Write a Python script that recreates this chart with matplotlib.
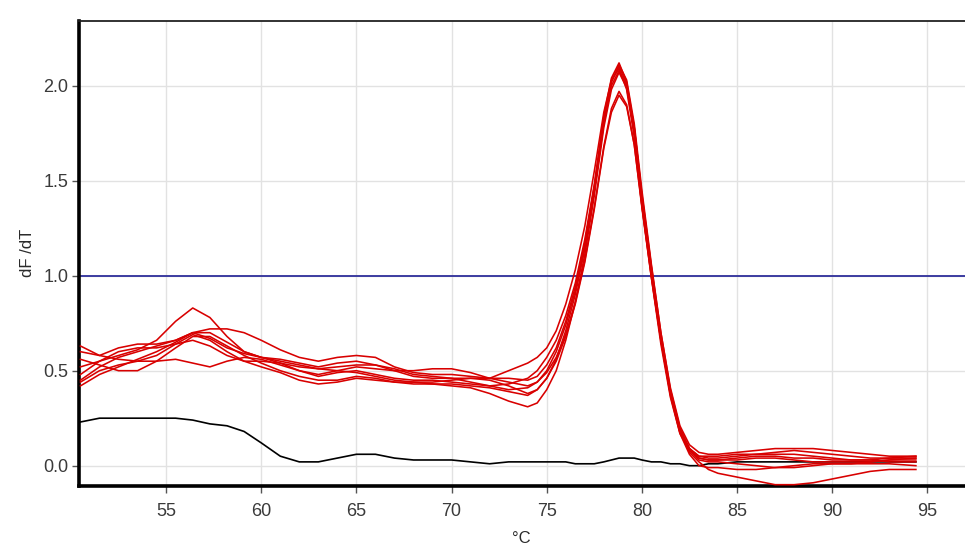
import matplotlib
matplotlib.use("Agg")
import matplotlib.pyplot as plt

plt.rcParams['font.family'] = ['Liberation Sans', 'DejaVu Sans']

# Temperature grid (°C)
temps = [50.5, 51.5, 52.5, 53.5, 54.5, 55.5, 56.4, 57.3, 58.2, 59.1, 60, 61, 62, 63, 64, 65, 66, 67, 68, 69,
         70, 71, 72, 73, 74,
         74.5, 75, 75.5, 76, 76.5, 77, 77.5, 78, 78.4, 78.8, 79.2, 79.6, 80, 80.5, 81, 81.5, 82, 82.5, 83,
         83.5, 84, 85, 86, 87, 88, 89, 90, 91, 92, 93, 94.4]

# Melt curves (dF/dT) - positive samples (red)
r1 = [0.52, 0.55, 0.58, 0.61, 0.66, 0.76, 0.83, 0.78, 0.68, 0.60, 0.57, 0.54, 0.50, 0.47, 0.49, 0.50, 0.48, 0.46, 0.45, 0.45,
      0.44, 0.43, 0.42, 0.43, 0.46,
      0.50, 0.57, 0.66, 0.79, 0.96, 1.19, 1.48, 1.84, 2.04, 2.12, 2.02, 1.78, 1.42, 1.04, 0.68, 0.39, 0.19, 0.09, 0.05,
      0.04, 0.04, 0.05, 0.06, 0.07, 0.08, 0.07, 0.06, 0.05, 0.04, 0.04, 0.04]
r2 = [0.45, 0.52, 0.57, 0.60, 0.63, 0.66, 0.70, 0.72, 0.72, 0.70, 0.66, 0.61, 0.57, 0.55, 0.57, 0.58, 0.57, 0.52, 0.49, 0.48,
      0.48, 0.47, 0.46, 0.50, 0.54,
      0.57, 0.62, 0.71, 0.85, 1.03, 1.26, 1.55, 1.86, 2.03, 2.09, 1.98, 1.73, 1.37, 0.99, 0.64, 0.36, 0.17, 0.08, 0.04,
      0.03, 0.03, 0.04, 0.05, 0.05, 0.04, 0.04, 0.03, 0.03, 0.03, 0.04, 0.05]
r3 = [0.60, 0.58, 0.56, 0.55, 0.55, 0.56, 0.54, 0.52, 0.55, 0.57, 0.56, 0.53, 0.50, 0.48, 0.50, 0.52, 0.51, 0.50, 0.50, 0.51,
      0.51, 0.49, 0.46, 0.44, 0.42,
      0.44, 0.49, 0.57, 0.69, 0.86, 1.08, 1.36, 1.68, 1.88, 1.97, 1.90, 1.69, 1.36, 0.99, 0.66, 0.38, 0.18, 0.07, 0.02,
      -0.02, -0.04, -0.06, -0.08, -0.10, -0.10, -0.09, -0.07, -0.05, -0.03, -0.02, -0.02]
r4 = [0.44, 0.50, 0.53, 0.55, 0.58, 0.64, 0.69, 0.66, 0.60, 0.55, 0.52, 0.49, 0.45, 0.43, 0.44, 0.46, 0.45, 0.44, 0.44, 0.43,
      0.42, 0.41, 0.38, 0.34, 0.31,
      0.33, 0.40, 0.50, 0.66, 0.86, 1.11, 1.42, 1.78, 1.98, 2.07, 1.99, 1.76, 1.41, 1.02, 0.67, 0.38, 0.18, 0.08, 0.03,
      0.02, 0.02, 0.01, 0.00, -0.01, -0.01, 0.00, 0.01, 0.01, 0.01, 0.01, 0.00]
r5 = [0.63, 0.58, 0.62, 0.64, 0.64, 0.66, 0.70, 0.67, 0.62, 0.59, 0.57, 0.55, 0.53, 0.51, 0.50, 0.49, 0.47, 0.45, 0.44, 0.44,
      0.45, 0.46, 0.45, 0.42, 0.38,
      0.40, 0.46, 0.56, 0.71, 0.90, 1.14, 1.45, 1.81, 2.02, 2.11, 2.03, 1.80, 1.45, 1.06, 0.70, 0.40, 0.20, 0.09, 0.04,
      0.03, 0.03, 0.03, 0.04, 0.04, 0.03, 0.02, 0.02, 0.02, 0.02, 0.03, 0.04]
r6 = [0.56, 0.53, 0.50, 0.50, 0.55, 0.62, 0.68, 0.68, 0.63, 0.58, 0.54, 0.50, 0.47, 0.45, 0.45, 0.47, 0.46, 0.44, 0.43, 0.43,
      0.43, 0.42, 0.41, 0.39, 0.37,
      0.40, 0.46, 0.55, 0.68, 0.85, 1.07, 1.35, 1.67, 1.86, 1.95, 1.89, 1.69, 1.37, 1.00, 0.66, 0.37, 0.17, 0.06, 0.00,
      -0.01, -0.01, -0.02, -0.02, -0.01, 0.00, 0.01, 0.01, 0.01, 0.02, 0.03, 0.03]
r7 = [0.48, 0.55, 0.60, 0.62, 0.62, 0.64, 0.66, 0.63, 0.58, 0.55, 0.55, 0.54, 0.52, 0.51, 0.52, 0.53, 0.53, 0.51, 0.48, 0.47,
      0.46, 0.46, 0.46, 0.46, 0.45,
      0.47, 0.53, 0.62, 0.76, 0.94, 1.17, 1.47, 1.82, 2.02, 2.10, 2.01, 1.77, 1.41, 1.02, 0.67, 0.38, 0.19, 0.09, 0.05,
      0.05, 0.05, 0.06, 0.06, 0.06, 0.06, 0.05, 0.04, 0.03, 0.03, 0.02, 0.02]
r8 = [0.42, 0.48, 0.52, 0.56, 0.60, 0.65, 0.70, 0.70, 0.65, 0.60, 0.57, 0.56, 0.54, 0.52, 0.54, 0.55, 0.53, 0.50, 0.47, 0.46,
      0.46, 0.44, 0.42, 0.40, 0.41,
      0.44, 0.50, 0.60, 0.74, 0.92, 1.15, 1.45, 1.80, 2.00, 2.08, 2.00, 1.78, 1.43, 1.05, 0.70, 0.41, 0.21, 0.11, 0.07,
      0.06, 0.06, 0.07, 0.08, 0.09, 0.09, 0.09, 0.08, 0.07, 0.06, 0.05, 0.05]
red_series = [r1, r2, r3, r4, r5, r6, r7, r8]

# Negative control (black)
neg = [0.23, 0.25, 0.25, 0.25, 0.25, 0.25, 0.24, 0.22, 0.21, 0.18, 0.12, 0.05, 0.02, 0.02, 0.04, 0.06, 0.06, 0.04, 0.03, 0.03,
       0.03, 0.02, 0.01, 0.02, 0.02,
       0.02, 0.02, 0.02, 0.02, 0.01, 0.01, 0.01, 0.02, 0.03, 0.04, 0.04, 0.04, 0.03, 0.02, 0.02, 0.01, 0.01, 0.00, 0.00,
       0.01, 0.01, 0.02, 0.02, 0.02, 0.02, 0.02, 0.02, 0.02, 0.02, 0.02, 0.02]

threshold = 1.0
xticks = [55, 60, 65, 70, 75, 80, 85, 90, 95]
yticks = [0.0, 0.5, 1.0, 1.5, 2.0]

fig = plt.figure(figsize=(9.65, 5.47), dpi=100)
ax = fig.add_axes([0.0822, 0.1115, 0.9178, 0.8506])

ax.set_xlim(50.44, 96.98)
ax.set_ylim(-0.107, 2.342)
ax.set_xticks(xticks)
ax.set_yticks(yticks)
ax.set_yticklabels([f"{v:.1f}" for v in yticks])
ax.grid(True, color='#e2e2e2', linewidth=1.0)
ax.set_axisbelow(True)

ax.axhline(threshold, color='#2e2e9a', linewidth=1.3, zorder=2)
ax.plot(temps, neg, color='black', linewidth=1.2, zorder=3)
for s in red_series:
    ax.plot(temps, s, color='#d80000', linewidth=1.15, zorder=4)

for side in ['left', 'bottom']:
    ax.spines[side].set_linewidth(2.6)
    ax.spines[side].set_color('black')
ax.spines['top'].set_linewidth(1.3)
ax.spines['top'].set_color('#222222')
ax.spines['right'].set_visible(False)

ax.tick_params(axis='both', direction='out', length=5, width=1, color='#555555',
               labelcolor='#3a3a3a', labelsize=13)
ax.tick_params(axis='x', pad=7)
ax.tick_params(axis='y', pad=3)

ax.set_ylabel('dF /dT', fontsize=12, color='#2a2a2a')
ax.set_xlabel('°C', fontsize=12, color='#2a2a2a')
ax.yaxis.label.set_verticalalignment('center')
ax.xaxis.label.set_verticalalignment('center')
ax.yaxis.set_label_coords(-0.058, 0.5)
ax.xaxis.set_label_coords(0.4995, -0.112)

fig.savefig('out.png', dpi=100)
